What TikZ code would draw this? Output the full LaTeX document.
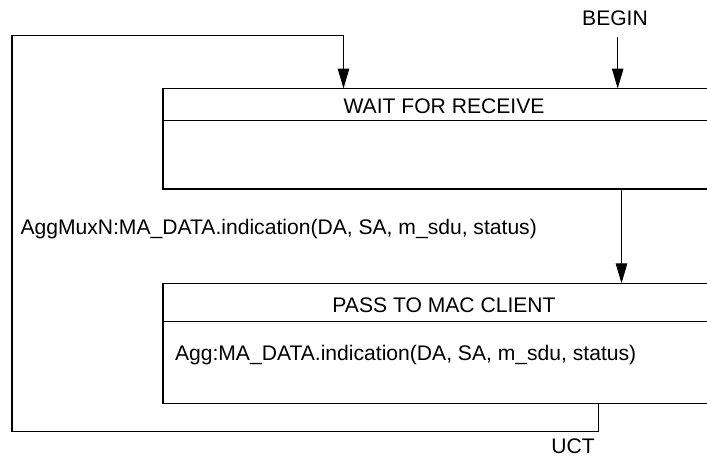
\documentclass[tikz,border=0pt]{standalone}
\usepackage{fontspec}
\setmainfont{Liberation Sans}
\usetikzlibrary{arrows.meta,calc}
\begin{document}
\begin{tikzpicture}[x=1pt,y=-1pt,
  line width=1.2pt,
  lbl/.style={inner sep=0pt,outer sep=0pt,font=\fontsize{21.1}{25}\selectfont},
  statebox/.style={draw,rectangle,inner sep=0pt,outer sep=0pt,minimum width=562pt},
  arr/.style={-{Triangle[length=20pt,width=11.5pt]}}]
\useasboundingbox (0,0) rectangle (707,456);
% state boxes (right side runs past the picture edge)
\node[statebox,minimum height=100.5pt] (wait) at (444,138.75) {};
\node[statebox,minimum height=120pt] (pass) at (444,343.3) {};
\coordinate (wdiv) at (163,120.5);
\coordinate (pdiv) at (163,321.7);
\draw (wdiv) -- (wdiv -| wait.east);
\draw (pdiv) -- (pdiv -| pass.east);
% texts
\node[lbl,anchor=base] (waitt) at (444,113.5) {WAIT FOR RECEIVE};
\node[lbl,anchor=base] (passt) at (444,312) {PASS TO MAC CLIENT};
\node[lbl,anchor=base west] (act) at (175,360) {Agg:MA\_DATA.indication(DA, SA, m\_sdu, status)};
\node[lbl,anchor=base west] (cond) at (20.5,234) {AggMuxN:MA\_DATA.indication(DA, SA, m\_sdu, status)};
\node[lbl,anchor=base] (begin) at (615,25.7) {BEGIN};
\node[lbl,anchor=base,text depth=0pt] (uct) at (573,453) {UCT};
% connectors
\coordinate (bstart) at (617.7,36.7);
\draw[arr] (bstart) -- (bstart |- wait.north);
\coordinate (mid) at (621.5,0);
\draw[arr] (mid |- wait.south) -- (mid |- pass.north);
\coordinate (lx) at (598.3,0);
\coordinate (lb) at (12,431.7);
\coordinate (lt) at (343.5,35.7);
\draw[arr] (lx |- pass.south) -- (lx |- lb) -- (lb) -- (lb |- lt) -- (lt) -- (lt |- wait.north);
\end{tikzpicture}
\end{document}
